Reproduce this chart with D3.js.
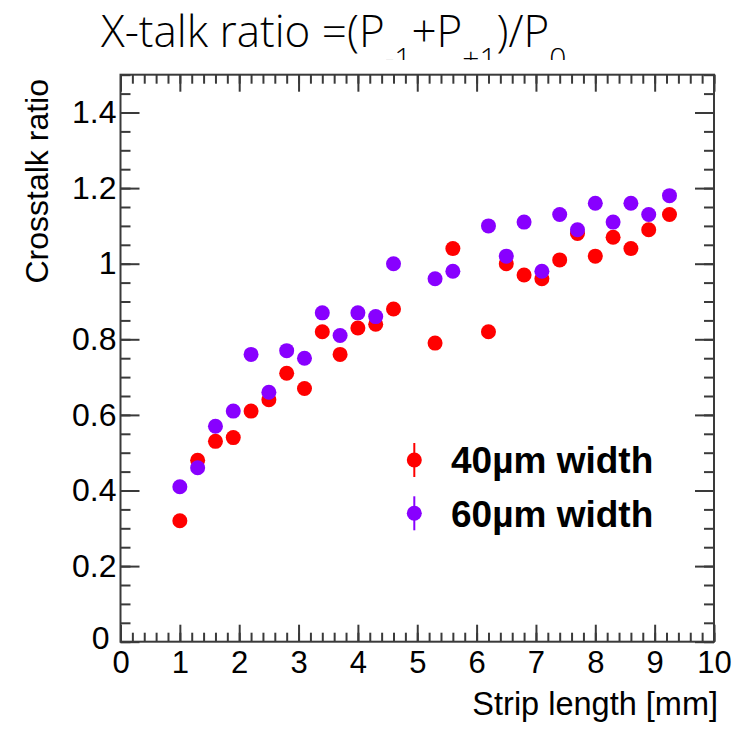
<!DOCTYPE html>
<html>
<head>
<meta charset="utf-8">
<script src="https://cdn.jsdelivr.net/npm/d3@7"></script>
<style>
  html, body { margin: 0; padding: 0; background: #fff; }
  svg { display: block; }
</style>
</head>
<body>
<div id="chart"></div>
<script>
// strip lengths [mm], shared by both series
const stripLength = [1.0, 1.3, 1.6, 1.9, 2.2, 2.5, 2.8, 3.1, 3.4, 3.7, 4.0, 4.3, 4.6,
  5.3, 5.6, 6.2, 6.5, 6.8, 7.1, 7.4, 7.7, 8.0, 8.3, 8.6, 8.9, 9.25];

const ratio40 = [0.32, 0.48, 0.53, 0.54, 0.61, 0.64, 0.71, 0.67, 0.82, 0.76, 0.83, 0.84, 0.88,
  0.79, 1.04, 0.82, 1.00, 0.97, 0.96, 1.01, 1.08, 1.02, 1.07, 1.04, 1.09, 1.13];

const ratio60 = [0.41, 0.46, 0.57, 0.61, 0.76, 0.66, 0.77, 0.75, 0.87, 0.81, 0.87, 0.86, 1.00,
  0.96, 0.98, 1.10, 1.02, 1.11, 0.98, 1.13, 1.09, 1.16, 1.11, 1.16, 1.13, 1.18];

const seriesNames = ["40\u00b5m width", "60\u00b5m width"];
const seriesColors = ["#ff0000", "#8800ff"];

const xMajor = d3.range(0, 10.01, 1);
const xMinor = d3.range(0, 10.01, 0.2);
const yMajor = [0, 0.2, 0.4, 0.6, 0.8, 1, 1.2, 1.4];
const yMinor = d3.range(0, 1.501, 0.05);

const width = 741;
const height = 738;
const FRAME = "#3a3a3a";

const x = d3.scaleLinear().domain([0, 10]).range([120.5, 714]);
const y = d3.scaleLinear().domain([0, 1.5]).range([641.7, 74.7]);

const svg = d3.select("#chart").append("svg")
  .attr("width", width)
  .attr("height", height);

////////////////////////////////////////////////////////////////////////////////////
// title, clipped at the bottom like the slide it was cut from

svg.append("clipPath").attr("id", "titleClip")
  .append("rect").attr("x", 0).attr("y", 0).attr("width", width).attr("height", 60);

const title = svg.append("text")
  .attr("clip-path", "url(#titleClip)")
  .attr("x", 101)
  .attr("y", 47)
  .style("font-family", "'Open Sans', 'Noto Sans', sans-serif")
  .style("font-weight", 300)
  .style("font-size", "44px")
  .attr("fill", "#000");

const titleParts = [
  { t: "X-talk ratio =(P", sub: false },
  { t: "-1", sub: true },
  { t: "+P", sub: false },
  { t: "+1", sub: true },
  { t: ")/P", sub: false },
  { t: "0", sub: true }
];
let shifted = false;
titleParts.forEach(p => {
  let dy = 0;
  if (p.sub && !shifted) { dy = 22; shifted = true; }
  if (!p.sub && shifted) { dy = -22; shifted = false; }
  title.append("tspan")
    .attr("dy", dy)
    .style("font-size", p.sub ? "30px" : "44px")
    .text(p.t);
});

////////////////////////////////////////////////////////////////////////////////////
// axes: ticks on all four sides, pointing inward

function styleAxis(g) {
  g.select(".domain").remove();
  g.selectAll(".tick line").attr("stroke", FRAME).attr("stroke-width", 2);
  g.selectAll(".tick text")
    .attr("fill", "#000")
    .style("font-family", "'Liberation Sans', Arial, sans-serif")
    .style("font-size", "31px");
}

// bottom
svg.append("g").attr("transform", `translate(0,${y(0)})`)
  .call(d3.axisBottom(x).tickValues(xMinor).tickSize(-9).tickFormat(""))
  .call(styleAxis);
svg.append("g").attr("transform", `translate(0,${y(0)})`)
  .call(d3.axisBottom(x).tickValues(xMajor).tickSize(-17).tickPadding(9).tickFormat(d3.format("d")))
  .call(styleAxis);

// top
svg.append("g").attr("transform", `translate(0,${y(1.5)})`)
  .call(d3.axisTop(x).tickValues(xMinor).tickSize(-9).tickFormat(""))
  .call(styleAxis);
svg.append("g").attr("transform", `translate(0,${y(1.5)})`)
  .call(d3.axisTop(x).tickValues(xMajor).tickSize(-17).tickFormat(""))
  .call(styleAxis);

// left
svg.append("g").attr("transform", `translate(${x(0)},0)`)
  .call(d3.axisLeft(y).tickValues(yMinor).tickSize(-10).tickFormat(""))
  .call(styleAxis);
svg.append("g").attr("transform", `translate(${x(0)},0)`)
  .call(d3.axisLeft(y).tickValues(yMajor).tickSize(-19).tickPadding(4).tickFormat(d => d === 0 ? "0" : d3.format("~g")(d)))
  .call(styleAxis)
  .call(g => g.selectAll(".tick text").style("font-size", "32px"))
  // the zero label sits a little left and up, clear of the x-axis zero
  .call(g => g.selectAll(".tick").filter(d => d === 0).select("text")
    .attr("x", -11).attr("dy", "0.2em"));

// right
svg.append("g").attr("transform", `translate(${x(10)},0)`)
  .call(d3.axisRight(y).tickValues(yMinor).tickSize(-10).tickFormat(""))
  .call(styleAxis);
svg.append("g").attr("transform", `translate(${x(10)},0)`)
  .call(d3.axisRight(y).tickValues(yMajor).tickSize(-19).tickFormat(""))
  .call(styleAxis);

// frame
svg.append("rect")
  .attr("x", x(0)).attr("y", y(1.5))
  .attr("width", x(10) - x(0)).attr("height", y(0) - y(1.5))
  .attr("fill", "none")
  .attr("stroke", FRAME)
  .attr("stroke-width", 2);

// axis titles
svg.append("text")
  .attr("transform", `translate(48,79) rotate(-90)`)
  .attr("text-anchor", "end")
  .style("font-family", "'Liberation Sans', Arial, sans-serif")
  .style("font-size", "32px")
  .attr("fill", "#000")
  .text("Crosstalk ratio");

svg.append("text")
  .attr("x", 718)
  .attr("y", 715)
  .attr("text-anchor", "end")
  .style("font-family", "'Liberation Sans', Arial, sans-serif")
  .style("font-size", "32.5px")
  .attr("fill", "#000")
  .text("Strip length [mm]");

////////////////////////////////////////////////////////////////////////////////////
// points

const series = [ratio40, ratio60];
series.forEach((vals, i) => {
  svg.append("g")
    .selectAll("circle")
    .data(vals.map((v, j) => ({ x: stripLength[j], y: v })))
    .enter()
    .append("circle")
    .attr("cx", d => x(d.x))
    .attr("cy", d => y(d.y))
    .attr("r", 7.5)
    .attr("fill", seriesColors[i]);
});

////////////////////////////////////////////////////////////////////////////////////
// legend

const legend = svg.append("g");
seriesNames.forEach((name, i) => {
  const ly = 460 + i * 53.3;
  legend.append("line")
    .attr("x1", 414.3).attr("x2", 414.3)
    .attr("y1", ly - 17).attr("y2", ly + 17)
    .attr("stroke", seriesColors[i])
    .attr("stroke-width", 2);
  legend.append("circle")
    .attr("cx", 414.3).attr("cy", ly).attr("r", 7.5)
    .attr("fill", seriesColors[i]);
  legend.append("text")
    .attr("x", 451)
    .attr("y", ly + 13.3)
    .style("font-family", "'Liberation Sans', Arial, sans-serif")
    .style("font-weight", "bold")
    .style("font-size", "37px")
    .attr("fill", "#000")
    .text(name);
});
</script>
</body>
</html>
